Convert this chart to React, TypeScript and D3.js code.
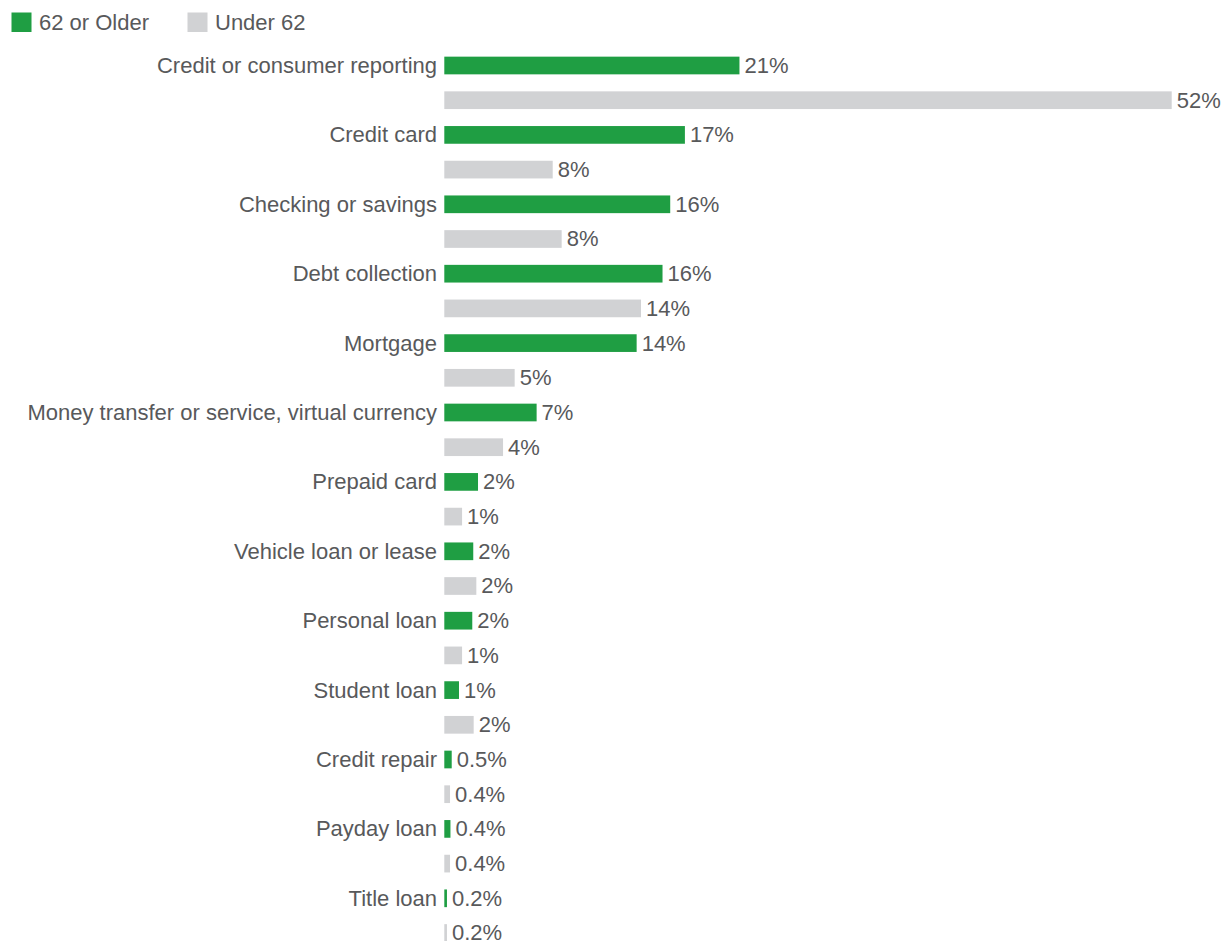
import React from "react";
import * as d3 from "d3";

const categories = [
  "Credit or consumer reporting",
  "Credit card",
  "Checking or savings",
  "Debt collection",
  "Mortgage",
  "Money transfer or service, virtual currency",
  "Prepaid card",
  "Vehicle loan or lease",
  "Personal loan",
  "Student loan",
  "Credit repair",
  "Payday loan",
  "Title loan",
];

const olderValues = [21.1, 17.2, 16.15, 15.6, 13.75, 6.6, 2.41, 2.07, 2.0, 1.05, 0.53, 0.44, 0.19];
const underValues = [52, 7.75, 8.39, 14.06, 5.03, 4.2, 1.27, 2.29, 1.27, 2.1, 0.41, 0.41, 0.19];

const seriesNames = ["62 or Older", "Under 62"];
const seriesColors = ["#1f9e43", "#d1d2d4"];

const fmt = (v: number) => (v >= 1 ? `${Math.round(v)}%` : `${v.toFixed(1)}%`);

export default function App() {
  const width = 1227;
  const height = 941;
  const x0 = 444.3;
  const x = d3.scaleLinear().domain([0, 52]).range([x0, 1171.7]);
  const y = d3
    .scaleBand<string>()
    .domain(categories)
    .range([48.15, 48.15 + 13 * 69.4]);
  const ySub = d3
    .scaleBand<string>()
    .domain(seriesNames)
    .range([0, y.bandwidth()])
    .paddingInner(0.49)
    .paddingOuter(0.245);
  const font = "'Liberation Sans', Arial, sans-serif";
  const textColor = "#58595b";
  const fs = 22;

  return (
    <svg
      width={width}
      height={height}
      style={{ position: "absolute", left: 0, top: 0, background: "#fff" }}
      fontFamily={font}
    >
      {/* legend */}
      <g>
        <rect x={11.5} y={12.5} width={20} height={19.5} fill={seriesColors[0]} />
        <text x={39} y={22.5} dy="0.35em" fontSize={fs} fill={textColor}>
          {seriesNames[0]}
        </text>
        <rect x={187.5} y={12.5} width={20} height={19.5} fill={seriesColors[1]} />
        <text x={215} y={22.5} dy="0.35em" fontSize={fs} fill={textColor}>
          {seriesNames[1]}
        </text>
      </g>
      {categories.map((c, i) => {
        const top = y(c)!;
        const vals = [olderValues[i], underValues[i]];
        return (
          <g key={c}>
            <text
              x={437}
              y={top + ySub(seriesNames[0])! + ySub.bandwidth() / 2}
              dy="0.34em"
              textAnchor="end"
              fontSize={fs}
              fill={textColor}
            >
              {c}
            </text>
            {seriesNames.map((s, j) => {
              const by = top + ySub(s)!;
              const w = x(vals[j]) - x0;
              return (
                <g key={s}>
                  <rect x={x0} y={by} width={w} height={ySub.bandwidth()} fill={seriesColors[j]} />
                  <text
                    x={x(vals[j]) + 5}
                    y={by + ySub.bandwidth() / 2}
                    dy="0.34em"
                    fontSize={fs}
                    fill={textColor}
                  >
                    {fmt(vals[j])}
                  </text>
                </g>
              );
            })}
          </g>
        );
      })}
    </svg>
  );
}
